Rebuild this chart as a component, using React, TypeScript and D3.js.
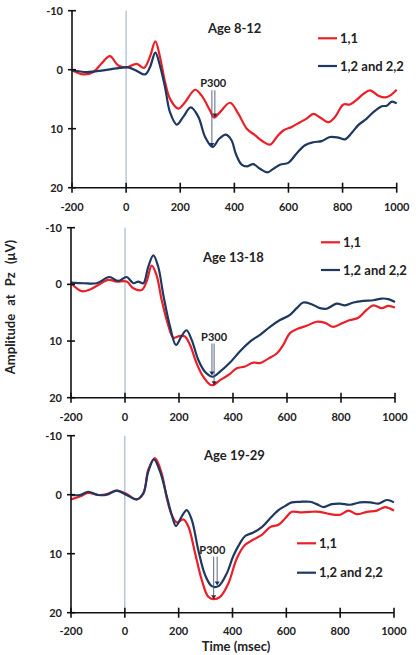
import React from 'react';
import * as d3 from 'd3';

// ---------- data ----------
const xTicks = [-200, 0, 200, 400, 600, 800, 1000];
const yTicks = [-10, 0, 10, 20];
const panelTitles = ['Age 8-12', 'Age 13-18', 'Age 19-29'];
const seriesNames = ['1,1', '1,2 and 2,2'];
const seriesColors = ['#ea1f28', '#1e3860'];

// Age 8-12
const tRed1 = [-200, -158, -121, -90, -60, -29, 2, 39, 66, 88, 108, 125, 144, 162, 193, 218, 255, 279, 310, 325, 347, 384, 415, 446, 476, 507, 532, 557, 581, 612, 643, 667, 692, 717, 747, 772, 803, 827, 852, 877, 901, 932, 957, 975, 1000];
const vRed1 = [0.1, 0.8, 0.4, -1.1, -2.3, -0.7, -0.4, -1.0, -0.3, -2.2, -4.8, -2.2, 2.1, 4.9, 6.6, 5.5, 3.4, 4.4, 6.9, 8.1, 7.2, 5.6, 7.5, 10.0, 11.1, 12.2, 12.7, 11.4, 10.3, 9.7, 8.9, 8.3, 7.5, 8.1, 8.9, 8.0, 5.9, 5.9, 5.1, 4.1, 3.5, 4.4, 4.7, 4.4, 3.4];
const tBlue1 = [-200, -146, -84, -23, 8, 39, 70, 88, 108, 125, 144, 162, 187, 211, 239, 267, 292, 320, 344, 369, 390, 405, 427, 446, 470, 495, 522, 544, 569, 599, 630, 661, 692, 723, 753, 784, 809, 834, 858, 889, 914, 945, 963, 982, 1000];
const vBlue1 = [0.1, 0.4, 0.1, -0.3, -0.4, 0.2, 0.8, -0.4, -2.9, -0.7, 3.0, 7.2, 9.3, 8.0, 6.4, 8.0, 11.4, 13.1, 11.7, 11.0, 12.0, 14.2, 16.1, 16.4, 16.0, 16.8, 17.4, 16.8, 16.1, 15.8, 14.2, 12.8, 12.3, 12.1, 11.4, 11.5, 11.8, 10.7, 9.4, 8.3, 7.2, 6.2, 6.1, 5.4, 5.7];

// Age 13-18
const tRed2 = [-200, -160, -130, -99, -62, -31, 6, 31, 62, 80, 99, 117, 136, 160, 179, 204, 222, 241, 265, 290, 321, 352, 389, 414, 444, 475, 500, 531, 562, 586, 611, 642, 673, 710, 741, 772, 802, 833, 864, 895, 920, 951, 975, 1000];
const vRed2 = [-0.2, 1.2, 0.9, 0.1, -0.8, -0.5, -0.5, 0.7, 1.0, -0.5, -3.3, -1.6, 2.8, 7.2, 9.4, 9.1, 9.2, 10.7, 13.9, 16.3, 17.8, 16.9, 15.8, 14.8, 14.5, 13.8, 13.9, 13.1, 12.2, 10.7, 8.6, 7.8, 7.3, 6.6, 6.8, 7.5, 6.9, 6.3, 5.9, 4.5, 3.7, 4.2, 3.8, 4.1];
const tBlue2 = [-200, -154, -105, -58, -25, 6, 31, 49, 68, 86, 105, 123, 142, 167, 189, 210, 228, 247, 272, 296, 325, 352, 389, 426, 463, 500, 537, 574, 611, 636, 660, 691, 722, 747, 784, 815, 846, 883, 920, 951, 975, 1000];
const vBlue2 = [-0.3, -0.2, -0.2, -1.3, -0.6, -1.3, -0.2, -0.5, -0.2, -3.1, -5.1, -3.1, 1.9, 7.5, 10.7, 9.1, 8.1, 9.8, 13.4, 15.4, 16.3, 15.4, 13.8, 11.8, 10.1, 8.9, 7.5, 6.3, 5.4, 4.2, 3.2, 3.5, 4.2, 4.3, 3.4, 3.7, 3.2, 2.9, 2.8, 2.5, 2.6, 3.1];

// Age 19-29
const tRed3 = [-200, -167, -136, -98, -67, -30, 7, 44, 69, 87, 112, 137, 156, 174, 193, 218, 236, 261, 286, 310, 329, 354, 385, 416, 447, 478, 509, 540, 571, 596, 620, 651, 688, 725, 763, 800, 831, 862, 899, 936, 967, 1000];
const vRed3 = [0.8, 0.3, -0.3, 0.05, -0.1, -0.7, -0.1, 0.8, -0.2, -4.2, -6.2, -3.6, 0.6, 3.4, 4.7, 4.2, 5.4, 9.9, 14.5, 17.3, 17.7, 17.3, 15.0, 10.8, 8.5, 7.6, 6.8, 5.5, 5.1, 4.0, 2.9, 3.0, 2.9, 2.9, 3.3, 3.4, 2.7, 3.3, 2.9, 2.7, 2.1, 2.7];
const tBlue3 = [-200, -167, -136, -98, -67, -30, 7, 44, 69, 87, 108, 131, 156, 174, 190, 211, 230, 249, 273, 298, 323, 348, 379, 403, 428, 447, 478, 509, 540, 571, 596, 620, 651, 688, 713, 738, 769, 800, 837, 874, 912, 943, 973, 1000];
const vBlue3 = [0.05, 0.05, -0.5, 0.05, 0.0, -0.7, 0.05, 0.8, -0.3, -3.9, -6.0, -3.9, 0.3, 3.4, 5.3, 3.7, 2.6, 4.3, 9.4, 13.6, 15.5, 15.5, 13.3, 10.4, 8.2, 7.0, 6.4, 5.5, 4.0, 2.6, 1.9, 1.3, 1.2, 1.2, 1.6, 2.1, 1.6, 1.5, 1.7, 1.3, 1.3, 1.5, 0.9, 1.3];

// P300 peaks
const p300LatRed = [328, 330, 330];
const p300AmpRed = [8.1, 17.8, 17.7];
const p300LatBlue = [317, 322, 343];
const p300AmpBlue = [13.1, 16.1, 15.4];
const p300LabelLat = [322, 330, 325];
const p300LabelAmp = [2.3, 9.2, 9.3];

const panelSeries = [
  [[tRed1, vRed1], [tBlue1, vBlue1]],
  [[tRed2, vRed2], [tBlue2, vBlue2]],
  [[tRed3, vRed3], [tBlue3, vBlue3]],
];

// ---------- layout ----------
const panels = [
  { left: 72, right: 396.7, top: 10.7, bottom: 187.7, titleX: 208, titleY: 33, legX: 318, legY: [38.3, 66], xLabelY: 211 },
  { left: 71, right: 395, top: 227.7, bottom: 397.7, titleX: 203, titleY: 262, legX: 321, legY: [242.3, 270], xLabelY: 421 },
  { left: 71, right: 394, top: 435.7, bottom: 612.7, titleX: 204, titleY: 460, legX: 297, legY: [543.3, 572.7], xLabelY: 634.5 },
];

const FONT = 'Lato, "Open Sans", sans-serif';

function Panel({ idx }: { idx: number }) {
  const p = panels[idx];
  const x = d3.scaleLinear().domain([-200, 1000]).range([p.left, p.right]);
  const y = d3.scaleLinear().domain([-10, 20]).range([p.top, p.bottom]);
  const line = d3
    .line<[number, number]>()
    .x((d) => x(d[0]))
    .y((d) => y(d[1]))
    .curve(d3.curveCatmullRom.alpha(0.5));

  const arrows = [
    { t: p300LatRed[idx], v: p300AmpRed[idx], c: '#3a2a30' },
    { t: p300LatBlue[idx], v: p300AmpBlue[idx], c: '#1e2f58' },
  ];
  const labY = y(p300LabelAmp[idx]);

  return (
    <g>
      {/* zero line */}
      <line x1={x(0)} x2={x(0)} y1={y(-10)} y2={y(20)} stroke="#9db3cc" strokeWidth={1.1} />
      {/* series */}
      {panelSeries[idx].map(([ts, vs], si) => (
        <path
          key={si}
          d={line(ts.map((t, i) => [t, vs[i]] as [number, number])) || ''}
          fill="none"
          stroke={seriesColors[si]}
          strokeWidth={2.2}
          strokeLinejoin="round"
        />
      ))}
      {/* axes */}
      <line x1={x(-200)} x2={x(-200)} y1={y(-10)} y2={y(20)} stroke="#111" strokeWidth={1.6} />
      <line x1={x(-200)} x2={x(1000)} y1={y(20)} y2={y(20)} stroke="#111" strokeWidth={1.6} />
      {yTicks.map((v) => (
        <g key={'y' + v}>
          <line x1={x(-200) - 4} x2={x(-200) + 4} y1={y(v)} y2={y(v)} stroke="#111" strokeWidth={1.6} />
          <text x={x(-200) - 9} y={y(v) + 4} textAnchor="end" fontSize={11} fontWeight="bold" fontFamily={FONT} fill="#222">
            {v}
          </text>
        </g>
      ))}
      {xTicks.map((t) => (
        <g key={'x' + t}>
          <line x1={x(t)} x2={x(t)} y1={y(20) - 5} y2={y(20) + 5} stroke="#111" strokeWidth={1.6} />
          <text x={x(t)} y={p.xLabelY} textAnchor="middle" fontSize={11} fontWeight="bold" fontFamily={FONT} fill="#222">
            {t}
          </text>
        </g>
      ))}
      {/* title */}
      <text x={p.titleX} y={p.titleY} fontSize={13} fontWeight="bold" fontFamily={FONT} fill="#222">
        {panelTitles[idx]}
      </text>
      {/* legend */}
      {seriesNames.map((n, si) => (
        <g key={n}>
          <line x1={p.legX} x2={p.legX + 19} y1={p.legY[si]} y2={p.legY[si]} stroke={seriesColors[si]} strokeWidth={2.2} />
          <text x={p.legX + 22} y={p.legY[si] + 4.5} fontSize={13} fontWeight="bold" fontFamily={FONT} fill="#222">
            {n}
          </text>
        </g>
      ))}
      {/* P300 annotation */}
      <text x={x(p300LabelLat[idx])} y={labY + 4} textAnchor="middle" fontSize={11} fontWeight="bold" fontFamily={FONT} fill="#222">
        P300
      </text>
      {arrows.map((a, ai) => (
        <g key={ai}>
          <line x1={x(a.t)} x2={x(a.t)} y1={labY + 7} y2={y(a.v) - 3} stroke="#4b5570" strokeWidth={0.9} />
          <path
            d={`M${x(a.t) - 2.5},${y(a.v) - 4} L${x(a.t) + 2.5},${y(a.v) - 4} L${x(a.t)},${y(a.v)} Z`}
            fill={a.c}
          />
        </g>
      ))}
    </g>
  );
}

export default function App() {
  return (
    <svg
      width={416}
      height={655}
      style={{ position: 'absolute', left: 0, top: 0, background: '#fff' }}
    >
      <rect x={0} y={0} width={416} height={655} fill="#fff" />
      {panels.map((_, i) => (
        <Panel key={i} idx={i} />
      ))}
      <text
        transform="translate(15,307) rotate(-90)"
        textAnchor="middle"
        fontSize={13}
        fontWeight="bold"
        fontFamily={FONT}
        fill="#222"
        wordSpacing={5}
      >
        Amplitude at Pz (μV)
      </text>
      <text x={236} y={650.5} textAnchor="middle" fontSize={13} fontWeight="bold" fontFamily={FONT} fill="#222">
        Time (msec)
      </text>
    </svg>
  );
}
